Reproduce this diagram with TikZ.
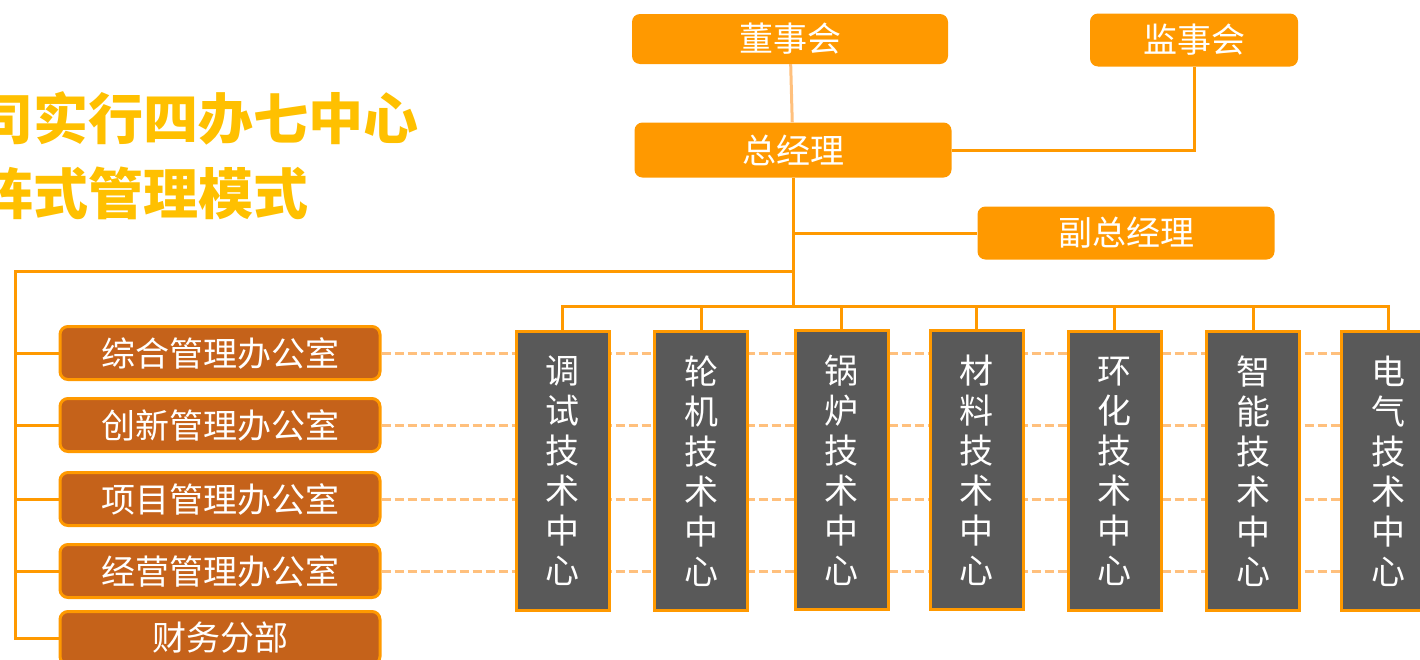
\documentclass[tikz,border=0pt]{standalone}
\usepackage{fontspec}
\newfontfamily\cjk{Noto Sans CJK SC}
\usepackage{tikz}
\usetikzlibrary{backgrounds}
\definecolor{mainorange}{RGB}{255,153,0}
\definecolor{darkorange}{RGB}{197,98,26}
\definecolor{centergray}{RGB}{89,89,89}
\definecolor{paleorange}{RGB}{255,192,125}
\definecolor{titleyellow}{RGB}{255,192,0}
\tikzstyle{topbox} = [rectangle, rounded corners=8pt, fill=mainorange, text=white, inner sep=0pt, font=\cjk\fontsize{34}{34}\selectfont]
\tikzstyle{office} = [rectangle, rounded corners=8pt, minimum width=320pt, minimum height=53pt, draw=mainorange, line width=3pt, fill=darkorange, text=white, inner sep=0pt, font=\cjk\fontsize{34}{34}\selectfont]
\tikzstyle{techbox} = [rectangle, minimum width=93pt, minimum height=279pt, draw=mainorange, line width=3pt, fill=centergray, text=white, align=center, inner sep=0pt, font=\cjk\fontsize{34}{40}\selectfont]
\tikzstyle{titletext} = [anchor=west, text=titleyellow, inner sep=0pt, font=\cjk\bfseries\fontsize{55}{55}\selectfont]
\tikzstyle{link} = [mainorange, line width=3pt]
\tikzstyle{dashlink} = [paleorange, line width=3pt, dash pattern=on 9pt off 4pt]

\begin{document}
\begin{tikzpicture}[x=1pt, y=-1pt]
\useasboundingbox (0,0) rectangle (1420,659);
% title
\node (title1) [titletext] at (-22,118) {司实行四办七中心};
\node (title2) [titletext] at (-22,193) {阵式管理模式};
% top
\node (dsh) [topbox, minimum width=316pt, minimum height=50pt] at (790,39) {董事会};
\node (jsh) [topbox, minimum width=208pt, minimum height=53pt] at (1194,40) {监事会};
\node (zjl) [topbox, minimum width=317pt, minimum height=55pt] at (793,150) {总经理};
\node (fzjl) [topbox, minimum width=297pt, minimum height=53pt] at (1126,233) {副总经理};
% offices
\node (zh) [office] at (220,353) {综合管理办公室};
\node (cx) [office] at (220,425) {创新管理办公室};
\node (xm) [office] at (220,499) {项目管理办公室};
\node (jy) [office] at (220,571) {经营管理办公室};
\node (cw) [office] at (220,638) {财务分部};
% centers
\node (ts) [techbox] at (562.5,471) {调\\试\\技\\术\\中\\心};
\node (lj) [techbox] at (701,471) {轮\\机\\技\\术\\中\\心};
\node (gl) [techbox] at (841.5,470) {锅\\炉\\技\\术\\中\\心};
\node (cl) [techbox] at (976.5,470) {材\\料\\技\\术\\中\\心};
\node (hh) [techbox] at (1114.5,471) {环\\化\\技\\术\\中\\心};
\node (zn) [techbox] at (1253,471) {智\\能\\技\\术\\中\\心};
\node (dq) [techbox] at (1388,471) {电\\气\\技\\术\\中\\心};
\coordinate (bus) at (793,306);
\coordinate (lbus) at (15,271);
\draw [link, paleorange] (dsh) -- (zjl);
\draw [link] (zjl.east) -| (jsh.south);
\draw [link] (zjl.south) -- (zjl.south |- bus);
\draw [link] (zjl.south |- fzjl.west) -- (fzjl.west);
\draw [link] (zjl.south |- lbus) -- (lbus) -- (lbus |- cw.west) -- (cw.west);
\foreach \n in {zh,cx,xm,jy}
  \draw [link] (lbus |- \n.west) -- (\n.west);
\draw [link] (ts.north) -- (ts.north |- bus) -- (dq.north |- bus) -- (dq.north);
\foreach \n in {lj,gl,cl,hh,zn}
  \draw [link] (\n.north) -- (\n.north |- bus);
\begin{scope}[on background layer]
\foreach \n in {zh,cx,xm,jy}
  \draw [dashlink] (\n.east) -- (\n.east -| dq.west);
\end{scope}
\end{tikzpicture}
\end{document}
